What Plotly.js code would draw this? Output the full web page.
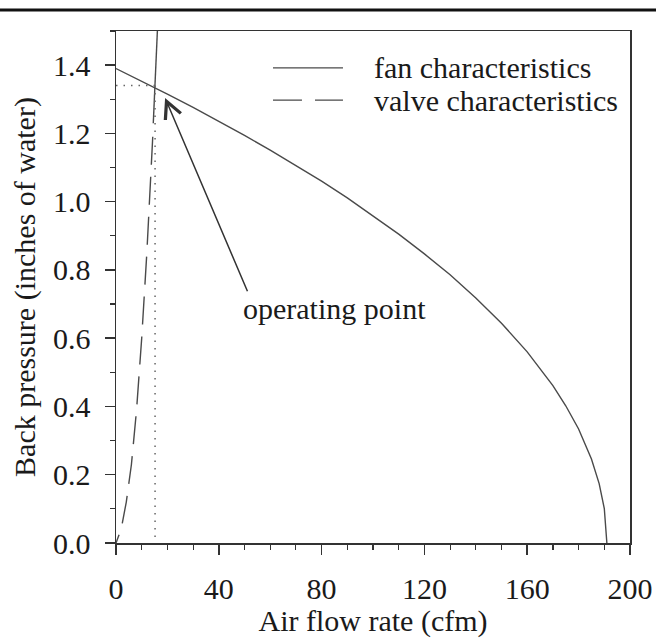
<!DOCTYPE html>
<html>
<head>
<meta charset="utf-8">
<script src="https://cdn.plot.ly/plotly-3.0.1.min.js"></script>
<style>html,body{margin:0;padding:0;background:#fff;}#chart{width:656px;height:638px;}</style>
</head>
<body>
<div id="chart"></div>
<script>
// Fan characteristic (air flow rate in cfm, back pressure in inches of water)
const fanQ = [0, 10, 20, 30, 40, 50, 60, 70, 80, 90, 100, 110, 120, 130, 140, 150, 160, 170, 175, 180, 185, 188, 190, 191];
const fanP = [1.39, 1.353, 1.315, 1.276, 1.236, 1.194, 1.151, 1.106, 1.060, 1.011, 0.959, 0.905, 0.847, 0.786, 0.718, 0.644, 0.560, 0.461, 0.402, 0.334, 0.246, 0.174, 0.101, 0.0];
// Valve characteristic (top part drawn solid, lower part dashed)
const valveUpperQ = [16.1, 15.2, 14.5];
const valveUpperP = [1.5, 1.34, 1.23];
const valveLowerQ = [14.3, 14, 12, 10, 8, 6, 4, 2, 0];
const valveLowerP = [1.19, 1.14, 0.85, 0.60, 0.39, 0.23, 0.12, 0.04, 0.0];
// Operating point
const opQ = 15.2;
const opP = 1.34;
const xTicks = [0, 40, 80, 120, 160, 200];
const yTicks = [0.0, 0.2, 0.4, 0.6, 0.8, 1.0, 1.2, 1.4];
const legendNames = ['fan characteristics', 'valve characteristics'];
const noteText = 'operating point';

const curveColor = '#4a4a4a';
const font = {family: 'Liberation Serif, Times New Roman, serif', size: 30, color: '#1a1a1a'};

const traces = [
  {x: fanQ, y: fanP, mode: 'lines', line: {color: curveColor, width: 1.4}, hoverinfo: 'skip'},
  {x: valveUpperQ, y: valveUpperP, mode: 'lines', line: {color: curveColor, width: 1.4}, hoverinfo: 'skip'},
  {x: valveLowerQ, y: valveLowerP, mode: 'lines', line: {color: curveColor, width: 1.4, dash: '28px,12px'}, hoverinfo: 'skip'},
  {x: [0, opQ], y: [opP, opP], mode: 'lines', line: {color: '#666', width: 1.5, dash: '1.5px,6px'}, hoverinfo: 'skip'},
  {x: [opQ, opQ], y: [opP, 0], mode: 'lines', line: {color: '#666', width: 1.5, dash: '1.5px,6px'}, hoverinfo: 'skip'}
];

const axisCommon = {
  showgrid: false, zeroline: false, showline: true, mirror: true,
  linecolor: '#333', linewidth: 1.5,
  ticks: 'outside', ticklen: 10, tickwidth: 1.5, tickcolor: '#333',
  tickfont: font
};

const layout = {
  width: 656, height: 638,
  margin: {l: 116, r: 26, t: 31, b: 95},
  paper_bgcolor: '#fff', plot_bgcolor: '#fff',
  showlegend: false,
  font: font,
  xaxis: Object.assign({}, axisCommon, {
    range: [0, 200], tickvals: xTicks, ticktext: xTicks.map(String),
    ticklabelstandoff: 8,
    minor: {dtick: 10, ticks: 'outside', ticklen: 5, tickwidth: 1.2, tickcolor: '#333'},
    title: {text: 'Air flow rate (cfm)', font: font, standoff: 6}
  }),
  yaxis: Object.assign({}, axisCommon, {
    range: [0, 1.5], tickvals: yTicks, ticktext: yTicks.map(v => v.toFixed(1)),
    ticklabelstandoff: 8,
    minor: {dtick: 0.1, ticks: 'outside', ticklen: 5, tickwidth: 1.2, tickcolor: '#333'},
    title: {text: 'Back pressure (inches of water)', font: font, standoff: 8}
  }),
  shapes: [
    {type: 'line', xref: 'paper', yref: 'paper', x0: -0.23, x1: 1.06, y0: 1.041, y1: 1.041, line: {color: '#111', width: 3}},
    {type: 'line', xref: 'paper', yref: 'paper', x0: 0.3054, x1: 0.4416, y0: 0.928, y1: 0.928, line: {color: curveColor, width: 1.4}},
    {type: 'line', xref: 'paper', yref: 'paper', x0: 0.3054, x1: 0.4416, y0: 0.865, y1: 0.865, line: {color: curveColor, width: 1.4, dash: '29px,13px'}}
  ],
  annotations: [
    {xref: 'paper', yref: 'paper', x: 0.498, y: 0.928, xanchor: 'left', yanchor: 'middle', text: legendNames[0], showarrow: false, font: font},
    {xref: 'paper', yref: 'paper', x: 0.498, y: 0.865, xanchor: 'left', yanchor: 'middle', text: legendNames[1], showarrow: false, font: font},
    {x: 19.1, y: 1.304, ax: 51.4, ay: 0.733, axref: 'x', ayref: 'y', xref: 'x', yref: 'y', text: '', showarrow: true,
     arrowhead: 5, arrowsize: 2.2, arrowwidth: 1.5, arrowcolor: '#333'},
    {x: 85.2, y: 0.688, xref: 'x', yref: 'y', text: noteText, showarrow: false, font: font, xanchor: 'center', yanchor: 'middle'}
  ]
};

Plotly.newPlot('chart', traces, layout, {staticPlot: true, displayModeBar: false});
</script>
</body>
</html>
